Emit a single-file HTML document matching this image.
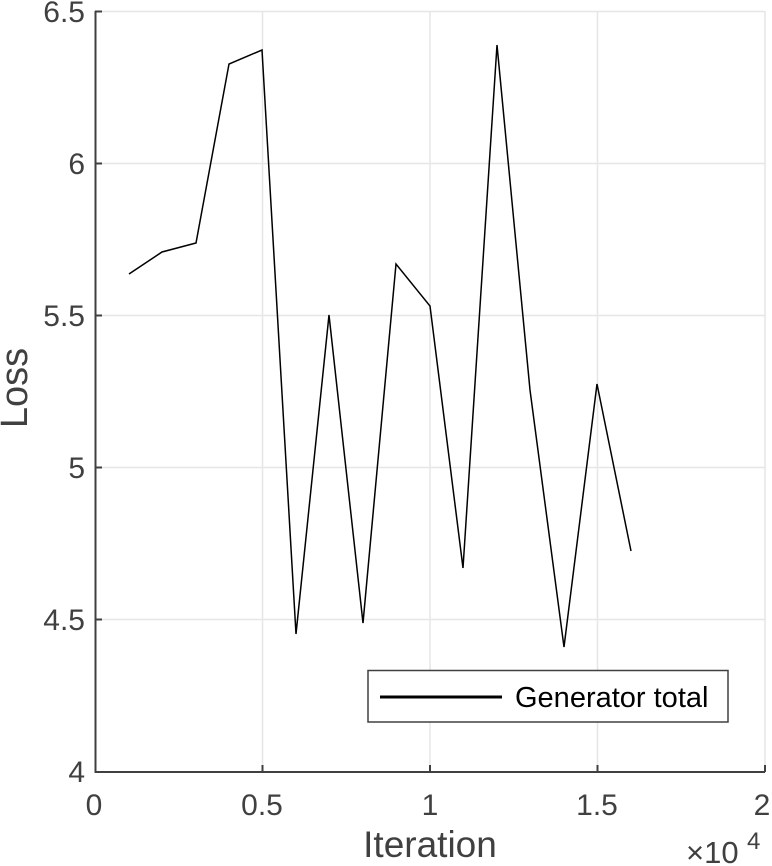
<!DOCTYPE html>
<html><head><style>body{margin:0;background:#fff}svg{display:block}</style></head><body>
<svg width="772" height="866" xmlns="http://www.w3.org/2000/svg" font-family="Liberation Sans, sans-serif">
<g stroke="#e6e6e6" stroke-width="1.5">
<line x1="262.5" y1="11" x2="262.5" y2="772"/><line x1="430" y1="11" x2="430" y2="772"/><line x1="597.5" y1="11" x2="597.5" y2="772"/><line x1="765" y1="11" x2="765" y2="772"/>
<line x1="95" y1="11.5" x2="765" y2="11.5"/><line x1="95" y1="163.5" x2="765" y2="163.5"/><line x1="95" y1="315.5" x2="765" y2="315.5"/><line x1="95" y1="467.5" x2="765" y2="467.5"/><line x1="95" y1="619.5" x2="765" y2="619.5"/>
</g>
<g stroke="#404040" stroke-width="2" fill="none">
<polyline points="95.5,11 95.5,772 765,772"/>
<line x1="95" y1="11.5" x2="102" y2="11.5"/><line x1="95" y1="163.5" x2="102" y2="163.5"/><line x1="95" y1="315.5" x2="102" y2="315.5"/><line x1="95" y1="467.5" x2="102" y2="467.5"/><line x1="95" y1="619.5" x2="102" y2="619.5"/>
<line x1="262.5" y1="772" x2="262.5" y2="765"/><line x1="430" y1="772" x2="430" y2="765"/><line x1="597.5" y1="772" x2="597.5" y2="765"/><line x1="765" y1="772" x2="765" y2="765"/>
</g>
<polyline fill="none" stroke="#000" stroke-width="1.5" points="129,274 162,252 196,243 229,64 262,50 296,634 329,315 363,623 396,264 430,306 463,568 497,45 530,390 564,647 597,384 631,551"/>
<g fill="#404040" font-size="30">
<g text-anchor="end"><text x="85" y="22">6.5</text><text x="85" y="174">6</text><text x="85" y="326">5.5</text><text x="85" y="478">5</text><text x="85" y="630">4.5</text><text x="85" y="782">4</text></g>
<g text-anchor="middle"><text x="94" y="815">0</text><text x="262" y="815">0.5</text><text x="430" y="815">1</text><text x="597" y="815">1.5</text><text x="762" y="815">2</text></g>
<text x="686" y="863" font-size="31">×10</text><text x="747" y="849" font-size="24">4</text>
<text x="430" y="857" text-anchor="middle" font-size="37">Iteration</text>
<text transform="translate(27,388) rotate(-90)" text-anchor="middle" font-size="38">Loss</text>
</g>
<rect x="368" y="670.5" width="360" height="51.5" fill="#fff" stroke="#404040" stroke-width="1.5"/>
<line x1="380" y1="697" x2="502" y2="697" stroke="#000" stroke-width="3"/>
<text x="515" y="707" font-size="29" fill="#000">Generator total</text>
</svg>
</body></html>
